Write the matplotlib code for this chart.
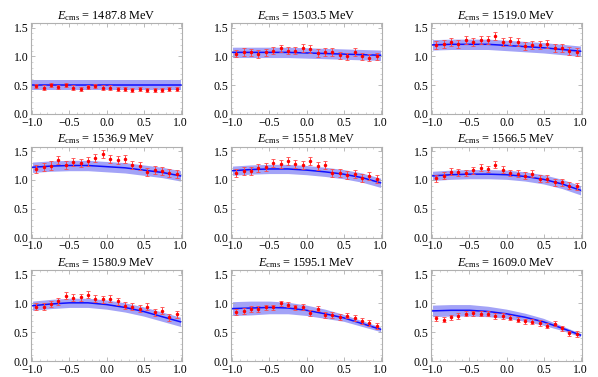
import matplotlib
matplotlib.use("Agg")
import matplotlib.pyplot as plt
import numpy as np
from matplotlib.ticker import MultipleLocator, FixedLocator

plt.rcParams["font.family"] = ["Liberation Serif", "DejaVu Serif"]
plt.rcParams["mathtext.fontset"] = "custom"
plt.rcParams["mathtext.rm"] = "Liberation Serif"
plt.rcParams["mathtext.it"] = "Liberation Serif:italic"
plt.rcParams["axes.unicode_minus"] = True

energies = [1487.8, 1503.5, 1519.0, 1536.9, 1551.8, 1566.5, 1580.9, 1595.1, 1609.0]

# measured points at cos(theta) bin centres
cos_data = [-0.95, -0.85, -0.75, -0.65, -0.55, -0.45, -0.35, -0.25, -0.15, -0.05,
            0.05, 0.15, 0.25, 0.35, 0.45, 0.55, 0.65, 0.75, 0.85, 0.95]
data = [
    [0.48, 0.46, 0.51, 0.47, 0.51, 0.46, 0.44, 0.47, 0.49, 0.46,
     0.46, 0.43, 0.43, 0.42, 0.43, 0.42, 0.42, 0.41, 0.44, 0.43],
    [1.05, 1.08, 1.07, 1.04, 1.07, 1.10, 1.14, 1.10, 1.10, 1.15,
     1.13, 1.06, 1.08, 1.08, 1.02, 1.00, 1.08, 1.00, 0.98, 1.00],
    [1.20, 1.22, 1.25, 1.22, 1.28, 1.25, 1.29, 1.28, 1.36, 1.25,
     1.26, 1.25, 1.18, 1.20, 1.19, 1.22, 1.14, 1.15, 1.10, 1.08],
    [1.19, 1.22, 1.25, 1.34, 1.26, 1.31, 1.29, 1.32, 1.38, 1.45,
     1.37, 1.34, 1.36, 1.26, 1.24, 1.14, 1.17, 1.15, 1.12, 1.11],
    [1.12, 1.15, 1.16, 1.21, 1.22, 1.30, 1.28, 1.33, 1.28, 1.26,
     1.33, 1.24, 1.26, 1.12, 1.12, 1.08, 1.11, 1.04, 1.06, 1.01],
    [1.03, 1.07, 1.14, 1.13, 1.12, 1.17, 1.21, 1.19, 1.26, 1.18,
     1.12, 1.11, 1.07, 1.11, 1.02, 1.02, 0.96, 0.96, 0.90, 0.89],
    [0.94, 0.94, 0.99, 1.04, 1.13, 1.10, 1.11, 1.15, 1.08, 1.07,
     1.08, 1.04, 0.96, 0.94, 0.91, 0.94, 0.85, 0.87, 0.76, 0.81],
    [0.85, 0.87, 0.90, 0.90, 0.93, 0.93, 1.00, 0.98, 0.93, 0.94,
     0.84, 0.91, 0.80, 0.80, 0.76, 0.79, 0.75, 0.69, 0.66, 0.61],
    [0.74, 0.72, 0.76, 0.78, 0.82, 0.83, 0.82, 0.82, 0.78, 0.78,
     0.75, 0.72, 0.69, 0.68, 0.66, 0.61, 0.65, 0.57, 0.48, 0.47],
]
errors = [0.035, 0.065, 0.07, 0.07, 0.07, 0.06, 0.06, 0.05, 0.045]

# model curve and its uncertainty band
cos_model = [-1.0, -0.75, -0.5, -0.25, 0.0, 0.25, 0.5, 0.75, 1.0]
model = [
    [0.51, 0.51, 0.51, 0.51, 0.51, 0.51, 0.51, 0.51, 0.51],
    [1.07, 1.07, 1.07, 1.07, 1.06, 1.05, 1.04, 1.03, 1.02],
    [1.20, 1.21, 1.21, 1.21, 1.19, 1.17, 1.15, 1.12, 1.09],
    [1.22, 1.24, 1.25, 1.25, 1.23, 1.21, 1.17, 1.13, 1.07],
    [1.16, 1.18, 1.19, 1.19, 1.17, 1.14, 1.10, 1.04, 0.95],
    [1.07, 1.09, 1.10, 1.10, 1.09, 1.06, 1.01, 0.93, 0.82],
    [0.96, 0.99, 1.01, 1.01, 0.98, 0.93, 0.86, 0.77, 0.68],
    [0.91, 0.92, 0.93, 0.92, 0.88, 0.82, 0.75, 0.65, 0.55],
    [0.87, 0.88, 0.88, 0.86, 0.82, 0.76, 0.68, 0.57, 0.45],
]
band = [
    [0.085] * 9,
    [0.09] * 9,
    [0.09] * 9,
    [0.09] * 9,
    [0.08] * 9,
    [0.08] * 9,
    [0.08] * 9,
    [0.12, 0.12, 0.11, 0.10, 0.09, 0.08, 0.06, 0.05, 0.04],
    [0.10, 0.10, 0.10, 0.09, 0.08, 0.07, 0.06, 0.04, 0.03],
]

W, H = 598, 377
fig = plt.figure(figsize=(W / 100, H / 100), dpi=100)
lefts = [31, 231, 431]
bottoms = [114, 237.5, 361]
frame_col = "#b0b0b0"

for i, E in enumerate(energies):
    r, c = divmod(i, 3)
    ax = fig.add_axes([lefts[c] / W, 1 - bottoms[r] / H, 151 / W, 91 / H])
    m = np.array(model[i]); b = np.array(band[i])
    ax.fill_between(cos_model, m - b, m + b, color="#a3a3f7", lw=0, zorder=1)
    ax.plot(cos_model, m, color="#1010ff", lw=1.1, zorder=2)
    ax.errorbar(cos_data, data[i], yerr=errors[i], fmt="o", ms=1.5,
                color="red", ecolor="#ff4848", elinewidth=0.7, capsize=1.4,
                capthick=0.6, zorder=3)
    ax.set_xlim(-1.02, 1.02)
    ax.set_ylim(0, 1.58)
    ax.xaxis.set_major_locator(FixedLocator([-1, -0.5, 0, 0.5, 1]))
    ax.yaxis.set_major_locator(FixedLocator([0, 0.5, 1.0, 1.5]))
    ax.xaxis.set_minor_locator(MultipleLocator(0.1))
    ax.yaxis.set_minor_locator(MultipleLocator(0.1))
    ax.set_xticklabels(["\u22121.0", "\u22120.5", "0.0", "0.5", "1.0"])
    ax.set_yticklabels(["0.0", "0.5", "1.0", "1.5"])
    ax.tick_params(which="both", direction="in", color=frame_col, labelsize=8.5,
                   top=True, right=True, pad=2)
    ax.tick_params(axis="x", pad=2)
    ax.tick_params(which="major", length=3, width=0.6)
    ax.tick_params(which="minor", length=1.5, width=0.4)
    for s in ax.spines.values():
        s.set_color(frame_col)
        s.set_linewidth(0.8)
    ax.set_title(r"$E_{\mathrm{cms}}$ = %.1f MeV" % E, fontsize=8.8, pad=3)

fig.savefig("out.png", dpi=100)
